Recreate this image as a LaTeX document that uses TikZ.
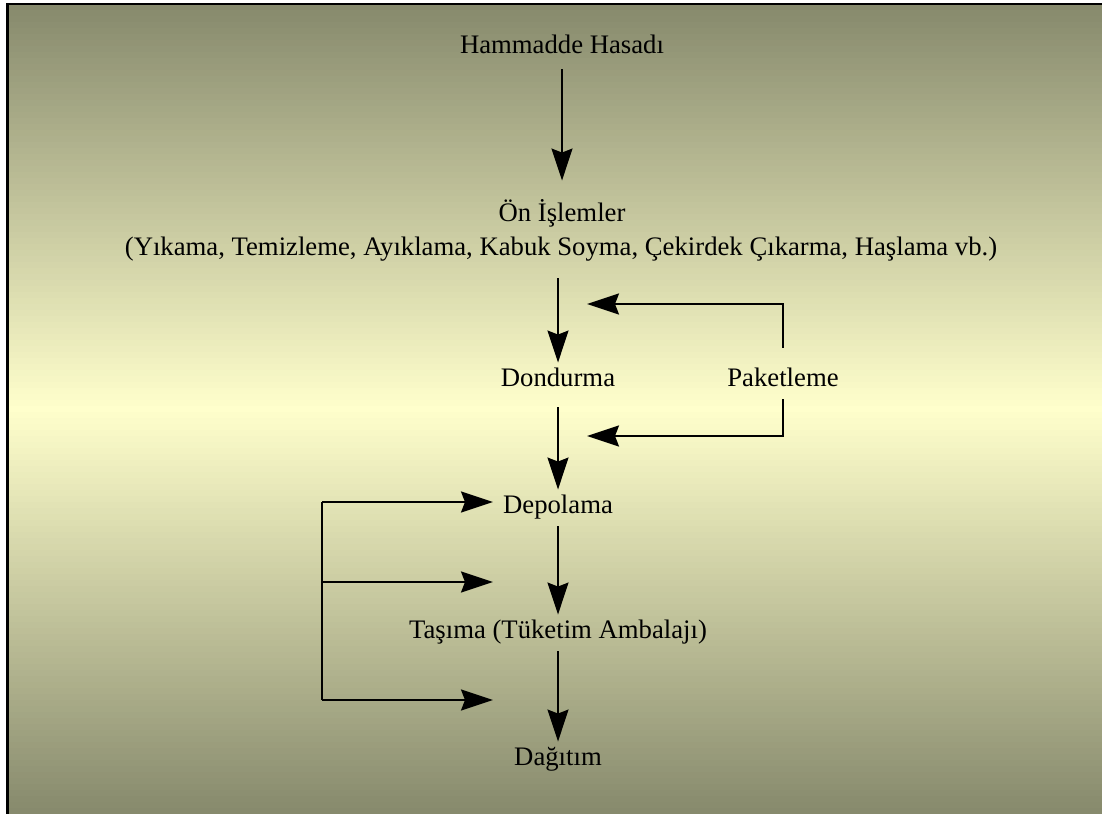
\documentclass[tikz,border=0pt]{standalone}
\usepackage{fontspec}
\setmainfont{Liberation Serif}
\usepackage{tikz}
\usetikzlibrary{arrows.meta,positioning,calc}
\definecolor{olive1}{RGB}{134,137,108}
\definecolor{paleyel}{RGB}{255,255,204}

\begin{document}
\begin{tikzpicture}[
    x=0.02cm, y=-0.02cm,
    step label/.style={inner xsep=2pt, inner ysep=7pt, text height=0.66em, text depth=0pt,
        font=\fontsize{15.2}{18}\selectfont},
    flow/.style={draw, line width=1.15pt, -{Stealth[length=0.64cm, width=0.42cm, inset=0.08cm]}},
    link/.style={draw, line width=1.15pt}
]
    % frame and background
    \useasboundingbox (0,0) rectangle (1102,814);
    \fill[white] (0,0) rectangle (1102,814);
    \foreach \i in {0,...,135} {
        \pgfmathsetmacro{\ya}{4+6*\i}
        \pgfmathsetmacro{\pc}{max(0,100*(1-abs(\ya+3-409)/405))}
        \fill[paleyel!\pc!olive1] (7,\ya) rectangle (1108,\ya+6.6);
    }
    \draw[line width=1.5pt] (7.3,820) -- (7.3,4) -- (1108,4);

    \node[step label] (ham) at (562,48) {Hammadde Hasadı};
    \node[step label] (on) at (562,216) {Ön İşlemler};
    \node[step label] (yik) at (561,250) {(Yıkama, Temizleme, Ayıklama, Kabuk Soyma, Çekirdek Çıkarma, Haşlama vb.)};
    \node[step label] (don) at (558,381) {Dondurma};
    \node[step label] (pak) at (783,381) {Paketleme};
    \node[step label] (dep) at (558,508) {Depolama};
    \node[step label] (tas) at (558,633) {Taşıma (Tüketim Ambalajı)};
    \node[step label] (dag) at (558,760) {Dağıtım};

    \draw[flow, shorten <=0.06cm, shorten >=0.34cm] (ham.south) -- (on.north);
    \draw[flow, shorten <=0.2cm] (yik.south -| don.north) -- (don.north);
    \draw[flow, shorten <=0.16cm] (don.south) -- (dep.north);
    \draw[flow] (dep.south) -- (tas.north);
    \draw[flow] (tas.south) -- (dag.north);

    % Paketleme feedback
    \coordinate (pin1) at (587,304);
    \coordinate (pin2) at (587,436);
    \draw[flow, shorten <=0.3cm] (pak.north) |- (pin1);
    \draw[flow] (pak.south) |- (pin2);

    % left return lines
    \foreach \n/\y in {a/502,b/582,c/700} {
        \coordinate (src\n) at (322,\y);
        \coordinate (dst\n) at (493,\y);
    }
    \draw[link] (srca) -- (srcc);
    \foreach \n in {a,b,c}
        \draw[flow] (src\n) -- (dst\n);
\end{tikzpicture}
\end{document}
